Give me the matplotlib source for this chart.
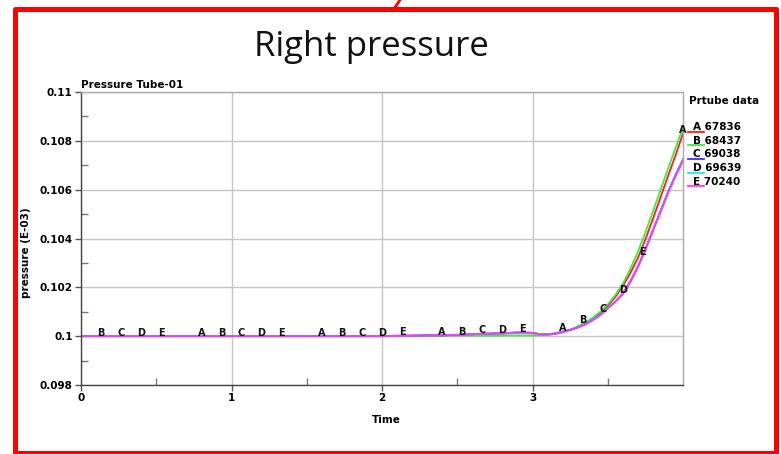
import numpy as np
import matplotlib
matplotlib.use("Agg")
import matplotlib.pyplot as plt
from matplotlib.lines import Line2D
from matplotlib.patches import Rectangle
from matplotlib.ticker import FixedLocator, FixedFormatter

# --- data: pressure history of five tube elements ---
time = [0.0, 1.0, 2.0, 2.1, 2.2, 2.3, 2.4, 2.5, 2.6, 2.7, 2.8, 2.9, 3.0,
        3.05, 3.1, 3.15, 3.2, 3.25, 3.3, 3.35, 3.4, 3.45, 3.5, 3.55, 3.6,
        3.65, 3.7, 3.75, 3.8, 3.85, 3.9, 3.95, 4.0]

p_a = [0.1, 0.1, 0.1, 0.10001, 0.10002, 0.10003, 0.10004, 0.10005, 0.10007,
       0.10009, 0.10011, 0.10013, 0.10012, 0.10008, 0.10006, 0.10010, 0.10018,
       0.10026, 0.10037, 0.10051, 0.10068, 0.10094, 0.10125, 0.10160, 0.10205,
       0.10258, 0.10320, 0.10396, 0.10480, 0.10567, 0.10655, 0.10740, 0.10830]
p_b = [0.1, 0.1, 0.1, 0.1, 0.1, 0.10001, 0.10001, 0.10002, 0.10002, 0.10002,
       0.10003, 0.10003, 0.10003, 0.10004, 0.10005, 0.10009, 0.10015, 0.10026,
       0.10040, 0.10056, 0.10075, 0.10100, 0.10130, 0.10168, 0.10215, 0.10275,
       0.10345, 0.10425, 0.10510, 0.10597, 0.10685, 0.10770, 0.10854]
p_c = [0.1, 0.1, 0.1, 0.10002, 0.10001, 0.10004, 0.10003, 0.10006, 0.10008,
       0.10010, 0.10012, 0.10015, 0.10014, 0.10008, 0.10008, 0.10011, 0.10018,
       0.10026, 0.10036, 0.10049, 0.10066, 0.10088, 0.10115, 0.10142, 0.10175,
       0.10225, 0.10285, 0.10357, 0.10435, 0.10512, 0.10590, 0.10660, 0.10724]
p_d = [0.1, 0.1, 0.1, 0.10001, 0.10002, 0.10003, 0.10004, 0.10005, 0.10008,
       0.10010, 0.10012, 0.10014, 0.10013, 0.10008, 0.10007, 0.10011, 0.10017,
       0.10025, 0.10036, 0.10048, 0.10066, 0.10087, 0.10114, 0.10141, 0.10174,
       0.10223, 0.10284, 0.10355, 0.10433, 0.10510, 0.10588, 0.10657, 0.10722]
p_e = [0.1, 0.1, 0.1, 0.10001, 0.10003, 0.10002, 0.10005, 0.10004, 0.10008,
       0.10011, 0.10011, 0.10016, 0.10013, 0.10007, 0.10007, 0.10010, 0.10017,
       0.10025, 0.10035, 0.10048, 0.10065, 0.10086, 0.10113, 0.10140, 0.10172,
       0.10221, 0.10282, 0.10352, 0.10430, 0.10507, 0.10585, 0.10654, 0.10720]

curve_letters = ["A", "B", "C", "D", "E"]
curve_ids = ["67836", "68437", "69038", "69639", "70240"]
curve_colors = ["#ff1a1a", "#3cee3c", "#3a2cff", "#22e8e8", "#ff33ff"]
series = [p_a, p_b, p_c, p_d, p_e]

x_ticks = [0, 1, 2, 3]
x_tick_labels = ["0", "1", "2", "3"]
y_ticks = [0.098, 0.100, 0.102, 0.104, 0.106, 0.108, 0.110]
y_tick_labels = ["0.098", "0.1", "0.102", "0.104", "0.106", "0.108", "0.11"]

W, H = 781, 454
fig = plt.figure(figsize=(W / 100, H / 100), dpi=100)
fig.patch.set_facecolor("white")

# slide-style frame and title
fig.patches.append(Rectangle((14.5 / W, 1.2 / H), (775.5 - 14.5) / W,
                             (445.0 - 1.2) / H, transform=fig.transFigure,
                             fill=False, edgecolor="#ff0000", linewidth=3.6,
                             joinstyle="round"))
fig.lines.append(Line2D([400 / W, 394.5 / W], [1.0, 1 - 8 / H],
                        transform=fig.transFigure, color="#ff0000", lw=2))
fig.text(371 / W, 1 - 47 / H, "Right pressure", ha="center", va="center",
         fontsize=25, family="Open Sans", color="#111111")

ax = fig.add_axes([81 / W, 1 - 385 / H, (683 - 81) / W, (385 - 92) / H])

for vals, col in zip(series, curve_colors):
    ax.plot(time, vals, color=col, lw=1.3, solid_joinstyle="round")

# letter markers along each curve, staggered in time
for i, (vals, let) in enumerate(zip(series, curve_letters)):
    for k in range(6):
        t = i * 0.8 / 6 + k * 0.8
        if t <= 0.01 or t > 4.001:
            continue
        y = np.interp(t, time, vals)
        ax.annotate(let, (t, y), xytext=(0, 2.5), textcoords="offset points",
                    ha="center", va="center", fontsize=7,
                    fontweight="bold", color="#111111", clip_on=False)

ax.set_xlim(0, 4)
ax.set_ylim(0.098, 0.110)

ax.xaxis.set_major_locator(FixedLocator(x_ticks))
ax.xaxis.set_major_formatter(FixedFormatter(x_tick_labels))
ax.xaxis.set_minor_locator(FixedLocator([0.5, 1.5, 2.5, 3.5]))
ax.yaxis.set_major_locator(FixedLocator(y_ticks))
ax.yaxis.set_major_formatter(FixedFormatter(y_tick_labels))
ax.yaxis.set_minor_locator(FixedLocator([0.099, 0.101, 0.103, 0.105,
                                         0.107, 0.109]))

ax.tick_params(which="major", direction="out", length=4, width=1,
               color="#555555", labelsize=7.5, pad=2)
ax.tick_params(which="minor", direction="in", length=5, width=1,
               color="#777777")
for lab in ax.get_xticklabels() + ax.get_yticklabels():
    lab.set_fontweight("bold")

ax.grid(True, which="major", color="#c4c4c4", lw=1)
ax.set_axisbelow(True)
for side in ["left", "bottom"]:
    ax.spines[side].set_color("#444444")
for side in ["top", "right"]:
    ax.spines[side].set_color("#aaaaaa")
for sp in ax.spines.values():
    sp.set_linewidth(1)

ax.set_xlabel("Time", fontsize=7.5, fontweight="bold")
ax.xaxis.set_label_coords((386 - 81) / 602, -(415 - 385) / 293)
ax.set_ylabel("pressure (E-03)", fontsize=7.5, fontweight="bold")
ax.yaxis.set_label_coords(-(81 - 31) / 602, 1 - (253 - 92) / 293)
ax.set_title("Pressure Tube-01", fontsize=7.5, fontweight="bold", loc="left",
             pad=3)

# legend block on the right
fig.text(689 / W, 1 - 101 / H, "Prtube data", ha="left", va="center",
         fontsize=7.5, fontweight="bold")
for i, (let, cid, col) in enumerate(zip(curve_letters, curve_ids,
                                        curve_colors)):
    yb = 1 - (131.5 + i * 13.7) / H
    fig.lines.append(Line2D([688 / W, 704 / W], [yb, yb],
                            transform=fig.transFigure, color=col, lw=1.3))
    fig.text(693 / W, yb + 1.5 / H, f"{let} {cid}", ha="left",
             va="baseline", fontsize=7.5, fontweight="bold")

fig.savefig("out.png", dpi=100)
